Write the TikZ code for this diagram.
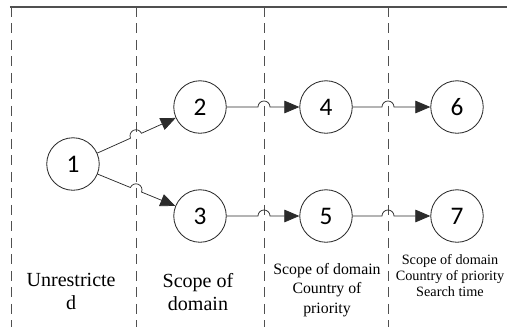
\documentclass[tikz,border=0pt]{standalone}
\usepackage{fontspec}
\setmainfont{Liberation Serif}
\newfontfamily\digitfont{Carlito}
\usetikzlibrary{positioning, calc, arrows.meta}
\definecolor{Ink}{HTML}{2B2B2B}
\definecolor{Rule}{HTML}{505050}
\tikzset{
    state/.style={circle, draw=Ink, line width=0.8pt, minimum size=1.75cm, inner sep=0pt, font=\digitfont\fontsize{24}{24}\selectfont},
    link/.style={-{Triangle[length=0.5cm, width=0.42cm]}, line width=0.7pt, color=Ink},
    zone/.style={Rule, line width=0.8pt, dash pattern=on 0.33cm off 0.22cm},
    caption/.style={align=center, text=black},
}

\begin{document}
\begin{tikzpicture}
    \useasboundingbox (0,0) rectangle (16.9,10.9);

    % Bordo superiore e separatori delle zone
    \draw[Rule, line width=1pt] (0.33,10.667) -- (16.9,10.667);
    \foreach \x in {0.367, 4.533, 8.8, 12.933}
        \draw[zone] (\x,10.667) -- (\x,0);

    % Stati
    \node[state] (n1) at (2.433,5.433) {1};
    \node[state] (n2) at (6.667,7.333) {2};
    \node[state] (n3) at (6.667,3.7) {3};
    \node[state] (n4) at (10.867,7.333) {4};
    \node[state] (n5) at (10.867,3.7) {5};
    \node[state] (n6) at (15.233,7.333) {6};
    \node[state] (n7) at (15.233,3.7) {7};

    % Punti di incrocio con i separatori
    \coordinate (c12) at ($(n1)!0.496!(n2)$);
    \coordinate (c13) at ($(n1)!0.496!(n3)$);
    \coordinate (c24) at (8.8,7.333);
    \coordinate (c35) at (8.8,3.7);
    \coordinate (c46) at (12.933,7.333);
    \coordinate (c57) at (12.933,3.7);

    % Collegamenti con salto sul separatore
    \draw[link] (n1) -- ($(c12)!0.2cm!(n1)$) arc[start angle=204.17, end angle=24.17, radius=0.2cm] -- (n2);
    \draw[link] (n1) -- ($(c13)!0.2cm!(n1)$) arc[start angle=157.74, end angle=-22.26, radius=0.2cm] -- (n3);
    \draw[link] (n2) -- ([xshift=-0.2cm]c24) arc[start angle=180, end angle=0, radius=0.2cm] -- (n4);
    \draw[link] (n3) -- ([xshift=-0.2cm]c35) arc[start angle=180, end angle=0, radius=0.2cm] -- (n5);
    \draw[link] (n4) -- ([xshift=-0.2cm]c46) arc[start angle=180, end angle=0, radius=0.2cm] -- (n6);
    \draw[link] (n5) -- ([xshift=-0.2cm]c57) arc[start angle=180, end angle=0, radius=0.2cm] -- (n7);

    % Didascalie delle zone
    \node[caption, font=\fontsize{19}{21.8}\selectfont] (lab1) at (2.37,1.18) {Unrestricte\\d};
    \node[caption, font=\fontsize{19}{21.8}\selectfont] (lab2) at (6.6,1.15) {Scope of\\domain};
    \node[caption, font=\fontsize{15}{18.5}\selectfont] (lab3) at (10.9,1.23) {Scope of domain\\Country of\\priority};
    \node[caption, font=\fontsize{13.5}{15.2}\selectfont] (lab4) at (15.0,1.7) {Scope of domain\\Country of priority\\Search time};
\end{tikzpicture}
\end{document}
